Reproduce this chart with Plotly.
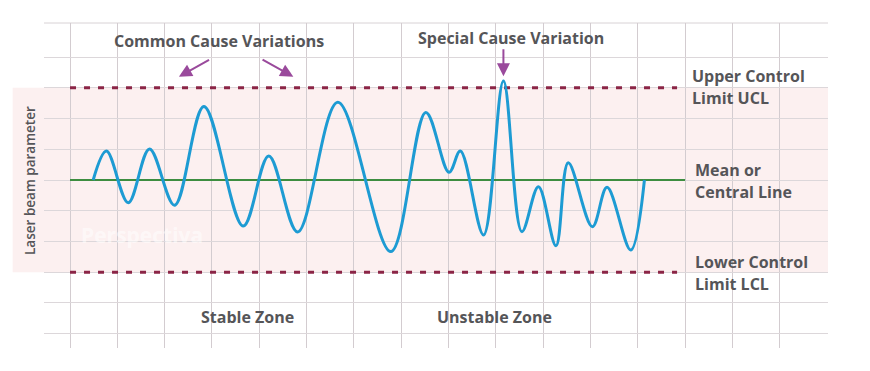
import plotly.graph_objects as go

# ---- data (x: time grid units, y: deviation from mean in sigma units)
signal_x = [0.49, 0.77, 1.23, 1.68, 2.21, 2.83, 3.66, 4.20, 4.81, 5.66, 6.78, 7.52,
            8.01, 8.25, 8.74, 9.16, 9.55, 9.90, 10.27, 10.53, 11.04, 11.35, 11.85, 12.14]
signal_y = [0.00, 0.94, -0.74, 1.01, -0.82, 2.39, -1.50, 0.78, -1.69, 2.53, -2.33, 2.20,
            0.25, 0.94, -1.79, 3.22, -1.68, -0.22, -2.14, 0.56, -1.52, -0.24, -2.28, 0.00]

UCL = 3
LCL = -3
MEAN = 0
limit_x = [0, 12.83]
mean_x = [0, 13.0]

FONT = "Open Sans"
TXT = "#555558"
PURPLE = "#9a4a9c"

fig = go.Figure()

fig.add_trace(go.Scatter(x=limit_x, y=[UCL, UCL], mode="lines",
                         line=dict(color="#8b2546", width=3, dash="6px,8px"), hoverinfo="skip"))
fig.add_trace(go.Scatter(x=limit_x, y=[LCL, LCL], mode="lines",
                         line=dict(color="#8b2546", width=3, dash="6px,8px"), hoverinfo="skip"))
fig.add_trace(go.Scatter(x=mean_x, y=[MEAN, MEAN], mode="lines",
                         line=dict(color="#3d8d40", width=2), hoverinfo="skip"))
fig.add_trace(go.Scatter(x=signal_x, y=signal_y, mode="lines",
                         line=dict(color="#1d9bd3", width=3, shape="spline", smoothing=1.0)))

# pink control band (extends left of the plot area)
fig.add_shape(type="rect", xref="paper", yref="y", x0=-0.04, x1=1.0, y0=LCL, y1=UCL,
              fillcolor="#fcf0f0", line=dict(width=0), layer="below")
# top border line
fig.add_shape(type="line", xref="paper", yref="paper", x0=0, x1=1, y0=1, y1=1,
              line=dict(color="#d8d2d5", width=1), layer="below")

def label(text, x, y, size=16, xanchor="center", color=TXT):
    fig.add_annotation(text=text, x=x, y=y, xref="x", yref="y", showarrow=False,
                       xanchor=xanchor, yanchor="middle",
                       font=dict(family=FONT, size=size, color=color, weight=700))

label("Common Cause Variations", 3.15, 4.53)
label("Special Cause Variation", 9.32, 4.61)
label("Upper Control", 13.11, 3.39, xanchor="left")
label("Limit UCL", 13.11, 2.68, xanchor="left")
label("Mean or", 13.17, 0.325, xanchor="left")
label("Central Line", 13.17, -0.38, xanchor="left")
label("Lower Control", 13.16, -2.66, xanchor="left")
label("Limit LCL", 13.16, -3.38, xanchor="left")
label("Stable Zone", 3.76, -4.45)
label("Unstable Zone", 8.98, -4.45)

# watermark
fig.add_annotation(text="Perspectiva", x=1.52, y=-1.79, xref="x", yref="y", showarrow=False,
                   font=dict(family=FONT, size=21, color="rgba(255,255,255,0.55)", weight=700))

# y-axis label
fig.add_annotation(text="Laser beam parameter", x=-0.0179, y=0, xref="paper", yref="y",
                   showarrow=False, textangle=-90, xanchor="center", yanchor="middle",
                   font=dict(family=FONT, size=13.5, color=TXT, weight=600))

# arrows
for hx, hy, ax, ay in [(2.30, 3.36, 31.7, -17.7), (4.72, 3.36, -32.3, -18.0), (9.16, 3.38, 0, -28.3)]:
    fig.add_annotation(x=hx, y=hy, xref="x", yref="y", text="", showarrow=True,
                       ax=ax, ay=ay, arrowhead=2, arrowsize=1.3, arrowwidth=2,
                       arrowcolor=PURPLE, standoff=0)

fig.update_layout(
    width=870, height=371,
    margin=dict(l=44, r=42, t=23, b=23),
    paper_bgcolor="white", plot_bgcolor="rgba(0,0,0,0)",
    showlegend=False,
    xaxis=dict(range=[-0.55, 16.02], tick0=0, dtick=1, showgrid=True, gridcolor="#d3ccd0",
               gridwidth=1, zeroline=False, showticklabels=False, ticks="", fixedrange=True),
    yaxis=dict(range=[-5.467, 5.109], tickmode="array", tickvals=list(range(-5, 5)),
               showgrid=True, gridcolor="#dcd7da", gridwidth=1, zeroline=False,
               showticklabels=False, ticks="", fixedrange=True),
)

fig.write_html("out.html", config={"displayModeBar": False},
               post_script="document.body.style.margin='0';document.body.style.overflow='hidden';")
